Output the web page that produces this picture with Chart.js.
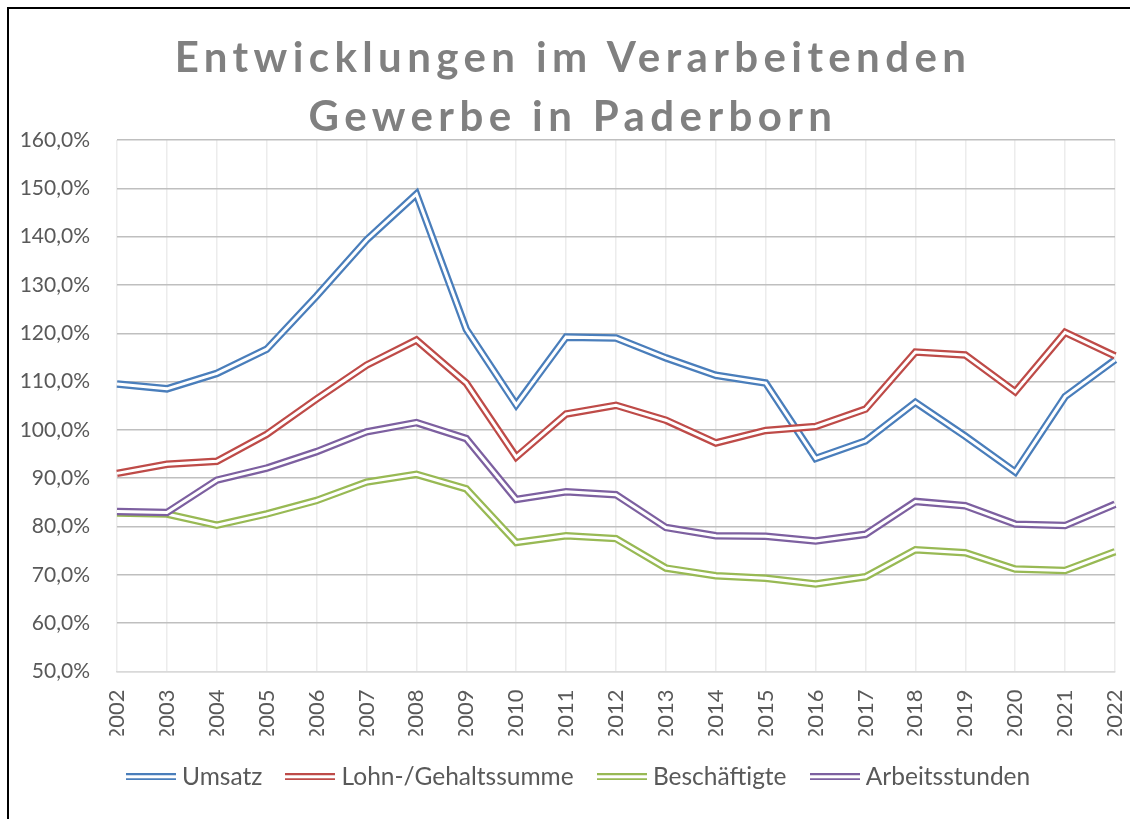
<!DOCTYPE html>
<html>
<head>
<meta charset="utf-8">
<title>Entwicklungen im Verarbeitenden Gewerbe in Paderborn</title>
<script src="https://cdn.jsdelivr.net/npm/chart.js@4.4.1/dist/chart.umd.min.js"></script>
<style>
  html, body { margin: 0; padding: 0; background: #fff; overflow: hidden; }
  #wrap { position: relative; width: 1130px; height: 819px; overflow: hidden; }
  #frame { position: absolute; left: 7px; top: 7px; width: 1200px; height: 900px; border: 2px solid #000; box-sizing: border-box; }
  #title { position: absolute; left: 0; top: 27px; width: 1146px; text-align: center; font: bold 42px Lato, sans-serif; letter-spacing: 5.4px; line-height: 59px; color: #808080; }
  canvas { position: absolute; left: 0; top: 0; }
</style>
</head>
<body>
<div id="wrap">
  <div id="frame"></div>
  <canvas id="chart" width="1130" height="819"></canvas>
  <div id="title">Entwicklungen im Verarbeitenden<br>Gewerbe in Paderborn</div>
</div>
<script>
// Data (percent)
const years = ['2002', '2003', '2004', '2005', '2006', '2007', '2008', '2009', '2010', '2011', '2012',
               '2013', '2014', '2015', '2016', '2017', '2018', '2019', '2020', '2021', '2022'];
const umsatz = [109.5, 108.5, 111.7, 116.7, 127.7, 139.3, 148.8, 120.8, 105.2, 119.2, 119.0,
                114.9, 111.3, 109.7, 94.1, 97.7, 105.7, 98.7, 91.3, 106.9, 114.5];
const lohnsumme = [91.0, 92.9, 93.5, 99.1, 106.4, 113.4, 118.6, 109.7, 94.4, 103.3, 105.1,
                   102.0, 97.3, 99.9, 100.7, 104.3, 116.1, 115.5, 107.9, 120.2, 115.3];
const beschaeftigte = [82.8, 82.6, 80.3, 82.6, 85.4, 89.2, 90.8, 87.8, 76.7, 78.1, 77.5,
                       71.4, 69.8, 69.3, 68.1, 69.6, 75.2, 74.6, 71.2, 70.9, 74.8];
const arbeitsstunden = [83.1, 82.9, 89.6, 92.1, 95.5, 99.6, 101.5, 98.2, 85.6, 87.2, 86.6,
                        79.8, 78.1, 78.0, 77.0, 78.4, 85.2, 84.3, 80.5, 80.2, 84.6];
const yMin = 50, yMax = 160, yStep = 10;

const seriesNames = ['Umsatz', 'Lohn-/Gehaltssumme', 'Beschäftigte', 'Arbeitsstunden'];
const seriesValues = [umsatz, lohnsumme, beschaeftigte, arbeitsstunden];
const seriesColors = ['#4a7ebb', '#be4b48', '#98b954', '#7d60a0'];

const textColor = '#595959';

// double line sample for the legend
function legendLine(color) {
    const c = document.createElement('canvas');
    c.width = 50;
    c.height = 7;
    const g = c.getContext('2d');
    g.fillStyle = color;
    g.fillRect(0, 0, 50, 7);
    g.fillStyle = '#fff';
    g.fillRect(0, 2, 50, 3);
    return c;
}

// each series = thick coloured line + thin white line on top (Excel "double" line)
const datasets = [];
seriesNames.forEach((name, i) => {
    datasets.push({
        label: name,
        data: seriesValues[i],
        borderColor: seriesColors[i],
        backgroundColor: seriesColors[i],
        borderWidth: 7.5,
        borderJoinStyle: 'miter',
        pointRadius: 0,
        pointStyle: legendLine(seriesColors[i]),
        order: (3 - i) * 2 + 1
    });
});
seriesNames.forEach((name, i) => {
    datasets.push({
        label: name + ' (innen)',
        data: seriesValues[i],
        borderColor: '#fff',
        borderWidth: 3,
        borderJoinStyle: 'miter',
        pointRadius: 0,
        order: (3 - i) * 2
    });
});

// legend is centred a bit right of the canvas middle, like in the original
const legendShift = {
    id: 'legendShift',
    afterUpdate(chart) {
        if (chart.legend) {
            chart.legend.left = 47;
            chart.legend.adjustHitBoxes();
        }
    }
};

new Chart(document.getElementById('chart'), {
    type: 'line',
    data: { labels: years, datasets: datasets },
    plugins: [legendShift],
    options: {
        responsive: false,
        animation: false,
        layout: { padding: { top: 140, left: 0, right: 15, bottom: 20 } },
        scales: {
            x: {
                offset: false,
                grid: { color: '#ececec', lineWidth: 1.5, drawTicks: false },
                border: { color: '#d9d9d9', width: 1.5 },
                ticks: { color: textColor, font: { family: 'Lato', size: 22 }, minRotation: 90, maxRotation: 90, padding: 18, autoSkip: false },
                afterFit: scale => {
                    scale.height = 64;
                    scale.paddingLeft = 0;
                    scale.paddingRight = 0;
                }
            },
            y: {
                min: yMin,
                max: yMax,
                grid: {
                    color: ctx => ctx.tick && ctx.tick.value === yMin ? '#d9d9d9' : '#bfbfbf',
                    lineWidth: 1.5,
                    drawTicks: false
                },
                border: { display: false },
                ticks: {
                    stepSize: yStep,
                    padding: 27,
                    color: textColor,
                    font: { family: 'Lato', size: 21 },
                    callback: v => v.toFixed(1).replace('.', ',') + '%'
                },
                afterFit: scale => { scale.width = 117; }
            }
        },
        plugins: {
            title: { display: false },
            tooltip: { enabled: false },
            legend: {
                position: 'bottom',
                labels: {
                    usePointStyle: true,
                    pointStyleWidth: 38,
                    padding: 29,
                    color: textColor,
                    font: { family: 'Lato', size: 24.5 },
                    filter: item => item.datasetIndex < 4,
                    sort: (a, b) => a.datasetIndex - b.datasetIndex
                }
            }
        }
    }
});
</script>
</body>
</html>
